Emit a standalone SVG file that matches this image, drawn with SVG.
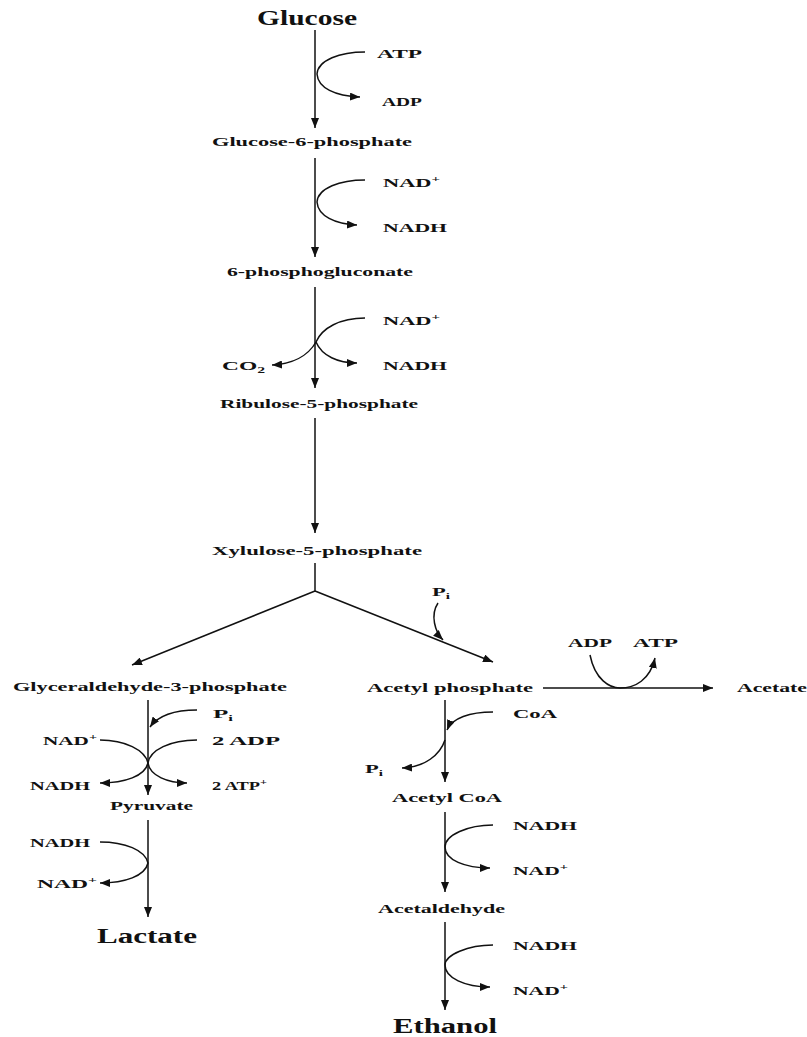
<svg xmlns="http://www.w3.org/2000/svg" width="807" height="1037" viewBox="0 0 807 1037">
<style>
text{font-family:"Liberation Serif","Times New Roman",serif;font-weight:bold;fill:#111}
.s{font-size:12px}
.b{font-size:20px}
.ln{stroke:#111;stroke-width:1.5;fill:none}
.a{marker-end:url(#ah)}
</style>
<defs>
<marker id="ah" markerUnits="userSpaceOnUse" markerWidth="11" markerHeight="8" refX="10" refY="4" orient="auto">
<path d="M0,0 L10,4 L0,8 Z" fill="#111"/>
</marker>
</defs>
<rect width="807" height="1037" fill="#fff"/>
<g id="connectors">
<line class="ln a" x1="315" y1="30" x2="315" y2="128"/>
<line class="ln a" x1="315" y1="158" x2="315" y2="257"/>
<line class="ln a" x1="315" y1="287" x2="315" y2="388"/>
<line class="ln a" x1="315" y1="418" x2="315" y2="533"/>
<line class="ln" x1="315" y1="563" x2="315" y2="591"/>
<line class="ln a" x1="315" y1="591" x2="132" y2="665"/>
<line class="ln a" x1="315" y1="591" x2="493" y2="662"/>
<line class="ln a" x1="148" y1="700" x2="148" y2="795"/>
<line class="ln a" x1="148" y1="820" x2="148" y2="917"/>
<line class="ln a" x1="445" y1="700" x2="445" y2="782"/>
<line class="ln a" x1="445" y1="812" x2="445" y2="892"/>
<line class="ln a" x1="445" y1="922" x2="445" y2="1010"/>
<line class="ln a" x1="543" y1="688" x2="713" y2="688"/>
<path class="ln a" d="M365,52 C340,52 318,60 317,74 C318,88 335,96 360,97"/>
<path class="ln a" d="M365,180 C340,180 318,188 317,202 C318,216 335,224 357,225"/>
<path class="ln" d="M365,318 C340,318 322,328 316,342"/>
<path class="ln a" d="M316,342 C308,356 292,364 272,365"/>
<path class="ln a" d="M316,342 C322,356 338,363 357,363"/>
<path class="ln a" d="M438,603 C430,615 435,632 443,640"/>
<path class="ln a" d="M590,655 C595,680 610,688 620,688 C635,688 650,680 655,658"/>
<path class="ln a" d="M197,710 C175,710 158,716 150,727"/>
<path class="ln a" d="M100,740 C125,740 145,750 148,763 C145,776 125,783 100,783"/>
<path class="ln a" d="M197,740 C170,740 150,750 148,763 C150,776 168,783 187,783"/>
<path class="ln a" d="M100,842 C125,842 145,850 148,863 C145,876 125,883 100,883"/>
<path class="ln a" d="M493,712 C470,712 452,718 447,730"/>
<path class="ln a" d="M445,740 C440,755 425,767 402,768"/>
<path class="ln a" d="M493,825 C468,825 445,835 445,847 C445,860 465,868 490,868"/>
<path class="ln a" d="M493,945 C468,945 445,955 445,965 C445,978 465,987 490,987"/>
</g>
<g id="glucose"><text class="b" x="257" y="25" textLength="100" lengthAdjust="spacingAndGlyphs">Glucose</text></g>
<g id="atp1"><text class="s" x="377" y="58" textLength="45" lengthAdjust="spacingAndGlyphs">ATP</text></g>
<g id="adp1"><text class="s" x="382" y="106" textLength="40" lengthAdjust="spacingAndGlyphs">ADP</text></g>
<g id="g6p"><text class="s" x="212" y="146" textLength="200" lengthAdjust="spacingAndGlyphs">Glucose-6-phosphate</text></g>
<g id="nad1"><text class="s" x="383" y="187" textLength="57" lengthAdjust="spacingAndGlyphs">NAD<tspan font-size="8" dy="-5">+</tspan></text></g>
<g id="nadh1"><text class="s" x="383" y="232" textLength="64" lengthAdjust="spacingAndGlyphs">NADH</text></g>
<g id="pg"><text class="s" x="227" y="276" textLength="186" lengthAdjust="spacingAndGlyphs">6-phosphogluconate</text></g>
<g id="nad2"><text class="s" x="383" y="325" textLength="57" lengthAdjust="spacingAndGlyphs">NAD<tspan font-size="8" dy="-5">+</tspan></text></g>
<g id="co2"><text class="s" x="222" y="370" textLength="43" lengthAdjust="spacingAndGlyphs">CO<tspan font-size="8" dy="3">2</tspan></text></g>
<g id="nadh2"><text class="s" x="383" y="370" textLength="64" lengthAdjust="spacingAndGlyphs">NADH</text></g>
<g id="ru5p"><text class="s" x="220" y="408" textLength="198" lengthAdjust="spacingAndGlyphs">Ribulose-5-phosphate</text></g>
<g id="xu5p"><text class="s" x="212" y="555" textLength="210" lengthAdjust="spacingAndGlyphs">Xylulose-5-phosphate</text></g>
<g id="pi1"><text class="s" x="432" y="596" textLength="18" lengthAdjust="spacingAndGlyphs">P<tspan font-size="8" dy="3">i</tspan></text></g>
<g id="ga3p"><text class="s" x="13" y="691" textLength="274" lengthAdjust="spacingAndGlyphs">Glyceraldehyde-3-phosphate</text></g>
<g id="acp"><text class="s" x="367" y="692" textLength="166" lengthAdjust="spacingAndGlyphs">Acetyl  phosphate</text></g>
<g id="adp2"><text class="s" x="568" y="647" textLength="44" lengthAdjust="spacingAndGlyphs">ADP</text></g>
<g id="atp2"><text class="s" x="633" y="647" textLength="45" lengthAdjust="spacingAndGlyphs">ATP</text></g>
<g id="acetate"><text class="s" x="737" y="692" textLength="70" lengthAdjust="spacingAndGlyphs">Acetate</text></g>
<g id="pi2"><text class="s" x="213" y="718" textLength="20" lengthAdjust="spacingAndGlyphs">P<tspan font-size="8" dy="3">i</tspan></text></g>
<g id="coa"><text class="s" x="513" y="718" textLength="44" lengthAdjust="spacingAndGlyphs">CoA</text></g>
<g id="nad3"><text class="s" x="43" y="745" textLength="54" lengthAdjust="spacingAndGlyphs">NAD<tspan font-size="8" dy="-5">+</tspan></text></g>
<g id="adp3"><text class="s" x="212" y="745" textLength="68" lengthAdjust="spacingAndGlyphs">2  ADP</text></g>
<g id="nadh3"><text class="s" x="30" y="790" textLength="60" lengthAdjust="spacingAndGlyphs">NADH</text></g>
<g id="atp3"><text class="s" x="212" y="790" textLength="55" lengthAdjust="spacingAndGlyphs">2 ATP<tspan font-size="8" dy="-5">+</tspan></text></g>
<g id="pyruvate"><text class="s" x="110" y="810" textLength="83" lengthAdjust="spacingAndGlyphs">Pyruvate</text></g>
<g id="pi3"><text class="s" x="365" y="773" textLength="18" lengthAdjust="spacingAndGlyphs">P<tspan font-size="8" dy="3">i</tspan></text></g>
<g id="acoa"><text class="s" x="392" y="802" textLength="110" lengthAdjust="spacingAndGlyphs">Acetyl CoA</text></g>
<g id="nadh4"><text class="s" x="30" y="847" textLength="60" lengthAdjust="spacingAndGlyphs">NADH</text></g>
<g id="nad4"><text class="s" x="37" y="888" textLength="60" lengthAdjust="spacingAndGlyphs">NAD<tspan font-size="8" dy="-5">+</tspan></text></g>
<g id="lactate"><text class="b" x="97" y="943" textLength="100" lengthAdjust="spacingAndGlyphs">Lactate</text></g>
<g id="nadh5"><text class="s" x="513" y="830" textLength="64" lengthAdjust="spacingAndGlyphs">NADH</text></g>
<g id="nad5"><text class="s" x="513" y="875" textLength="55" lengthAdjust="spacingAndGlyphs">NAD<tspan font-size="8" dy="-5">+</tspan></text></g>
<g id="acetaldehyde"><text class="s" x="378" y="913" textLength="127" lengthAdjust="spacingAndGlyphs">Acetaldehyde</text></g>
<g id="nadh6"><text class="s" x="513" y="950" textLength="64" lengthAdjust="spacingAndGlyphs">NADH</text></g>
<g id="nad6"><text class="s" x="513" y="995" textLength="55" lengthAdjust="spacingAndGlyphs">NAD<tspan font-size="8" dy="-5">+</tspan></text></g>
<g id="ethanol"><text class="b" x="393" y="1033" textLength="104" lengthAdjust="spacingAndGlyphs">Ethanol</text></g>
</svg>
